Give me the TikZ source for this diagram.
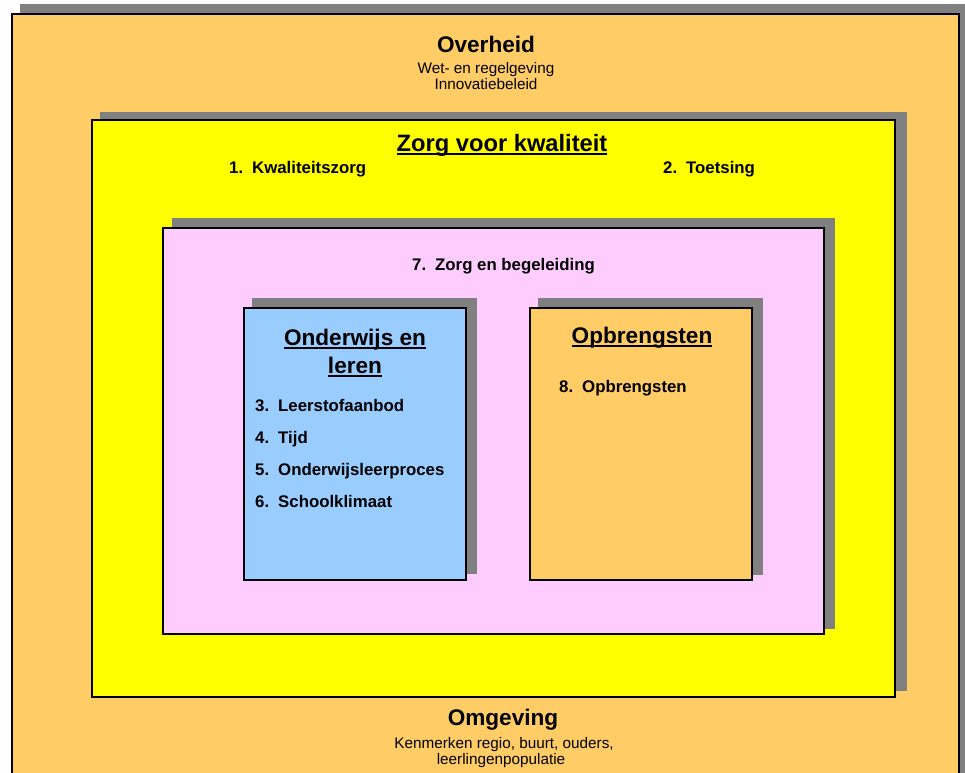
\documentclass[tikz,border=0pt]{standalone}
\usepackage{fontspec}
\setmainfont{Liberation Sans}
\definecolor{orangebg}{HTML}{FFCC66}
\definecolor{yellowbg}{HTML}{FFFF00}
\definecolor{pinkbg}{HTML}{FFCCFF}
\definecolor{bluebg}{HTML}{99CCFF}
\definecolor{shadowgray}{HTML}{808080}
\newcommand{\myul}[1]{\setbox0\hbox{#1}\rlap{\rule[-3.6pt]{\wd0}{1.6pt}}\box0}
\newcommand{\itm}[2]{\makebox[23pt][l]{#1}#2}
\tikzset{
  box/.style={draw=black, line width=1.6pt, anchor=north west, inner sep=0pt, outer sep=0pt},
  head/.style={font=\fontsize{22.6}{26}\selectfont\bfseries, inner sep=0pt, anchor=base},
  sub/.style={font=\fontsize{15.3}{18}\selectfont, inner sep=0pt, anchor=base},
  item/.style={font=\fontsize{16.8}{19}\selectfont\bfseries, inner sep=0pt, anchor=base west}
}
\begin{document}
\begin{tikzpicture}[x=1pt,y=-1pt]
\useasboundingbox (0,0) rectangle (965,772);
% outer: Overheid / Omgeving
\fill[shadowgray] (20,4) rectangle (967,790);
\node[box, fill=orangebg, minimum width=947pt, minimum height=770pt] (outer) at (12,14) {};
% yellow: Zorg voor kwaliteit
\fill[shadowgray] (100,112) rectangle (907,691);
\node[box, fill=yellowbg, minimum width=803pt, minimum height=577pt] (kwal) at (92,120) {};
% pink: Zorg en begeleiding
\fill[shadowgray] (172,218) rectangle (835,629);
\node[box, fill=pinkbg, minimum width=661pt, minimum height=406pt] (zorg) at (163,228) {};
% blue: Onderwijs en leren
\fill[shadowgray] (252,298) rectangle (477,574);
\node[box, fill=bluebg, minimum width=222pt, minimum height=272pt] (onderwijs) at (244,308) {};
% orange: Opbrengsten
\fill[shadowgray] (538,298) rectangle (763,575);
\node[box, fill=orangebg, minimum width=222pt, minimum height=272pt] (opbr) at (530,308) {};

% texts
\node[head] (overheid) at (486,52) {Overheid};
\node[sub] (wet) at (486,73) {Wet- en regelgeving};
\node[sub] (innov) at (486,89.5) {Innovatiebeleid};

\node[head, font=\fontsize{23.7}{27}\selectfont\bfseries] (zvk) at (502,151) {\myul{Zorg voor kwaliteit}};
\node[item] (k1) at (229,173) {\itm{1.}{Kwaliteitszorg}};
\node[item] (k2) at (663,173) {\itm{2.}{Toetsing}};

\node[item] (k7) at (412,270) {\itm{7.}{Zorg en begeleiding}};

\node[head] (ol1) at (355,345) {\myul{Onderwijs en}};
\node[head] (ol2) at (355,373) {\myul{leren}};
\node[item] (k3) at (255,411) {\itm{3.}{Leerstofaanbod}};
\node[item] (k4) at (255,443) {\itm{4.}{Tijd}};
\node[item] (k5) at (255,475) {\itm{5.}{Onderwijsleerproces}};
\node[item] (k6) at (255,507) {\itm{6.}{Schoolklimaat}};

\node[head] (opb) at (642,343) {\myul{Opbrengsten}};
\node[item] (k8) at (559,392) {\itm{8.}{Opbrengsten}};

\node[head] (omg) at (503,725) {Omgeving};
\node[sub] (kenm) at (504,748) {Kenmerken regio, buurt, ouders,};
\node[sub] (leerl) at (501,764.5) {leerlingenpopulatie};
\end{tikzpicture}
\end{document}
